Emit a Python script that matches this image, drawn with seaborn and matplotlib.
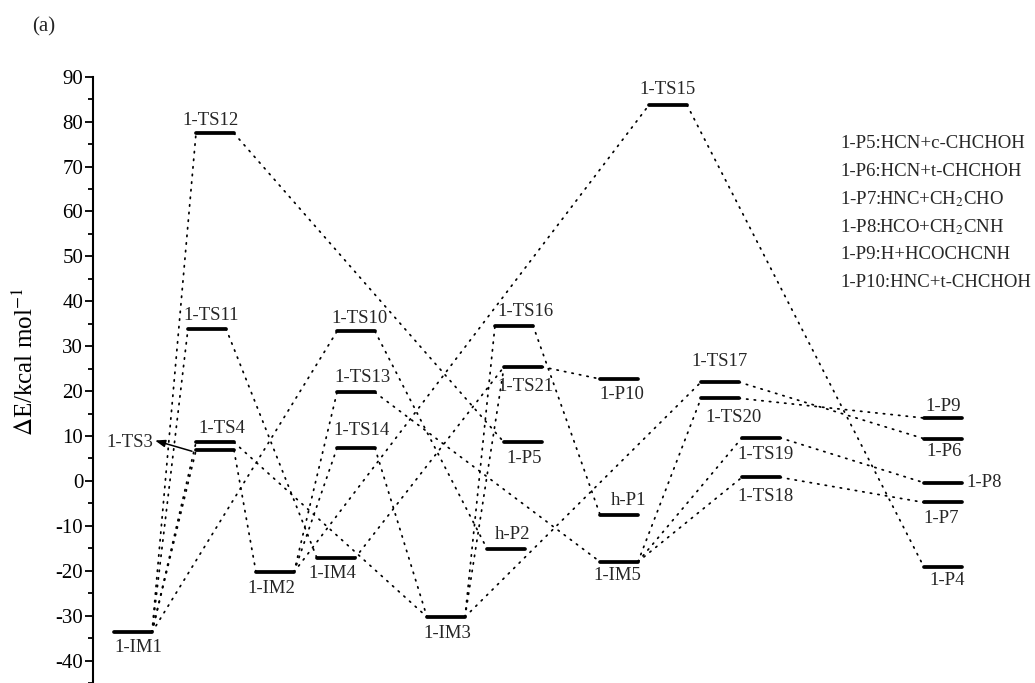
import matplotlib
matplotlib.use("Agg")
import matplotlib.pyplot as plt
from matplotlib.ticker import MultipleLocator
import pandas as pd
import seaborn as sns

# ---- potential energy surface data (kcal/mol) ----
species = ["1-IM1", "1-TS12", "1-TS11", "1-TS4", "1-TS3", "1-IM2", "1-IM4",
           "1-TS10", "1-TS13", "1-TS14", "1-IM3", "h-P2", "1-TS16", "1-TS21",
           "1-P5", "1-P10", "h-P1", "1-IM5", "1-TS15", "1-TS17", "1-TS20",
           "1-TS19", "1-TS18", "1-P9", "1-P6", "1-P8", "1-P7", "1-P4"]
energies = [-33.7, 77.4, 33.9, 8.6, 6.8, -20.3, -17.2,
            33.3, 19.7, 7.3, -30.3, -15.1, 34.6, 25.4,
            8.6, 22.7, -7.5, -18.0, 83.7, 22.0, 18.4,
            9.6, 0.8, 14.0, 9.4, -0.4, -4.8, -19.2]
# reaction-coordinate column of each level
columns = [4.0, 12.2, 11.4, 12.2, 12.2, 18.2, 24.3,
           26.3, 26.3, 26.3, 35.3, 41.3, 42.1, 43.0,
           43.0, 52.6, 52.6, 52.6, 57.5, 62.7, 62.7,
           66.8, 66.8, 85.0, 85.0, 85.0, 85.0, 85.0]

# elementary steps (left level -> right level)
steps = [
    ("1-IM1", "1-TS12"), ("1-IM1", "1-TS11"), ("1-IM1", "1-TS4"),
    ("1-IM1", "1-TS3"), ("1-IM1", "1-TS10"),
    ("1-TS12", "1-P5"), ("1-TS11", "1-IM4"), ("1-TS4", "1-IM3"),
    ("1-TS3", "1-IM2"), ("1-TS10", "h-P2"),
    ("1-IM2", "1-TS13"), ("1-IM2", "1-TS14"), ("1-IM2", "1-TS15"),
    ("1-IM4", "1-TS21"),
    ("1-TS13", "1-IM5"), ("1-TS14", "1-IM3"),
    ("1-IM3", "1-TS16"), ("1-IM3", "1-TS21"), ("1-IM3", "1-TS17"),
    ("1-TS16", "h-P1"), ("1-TS21", "1-P10"), ("1-TS15", "1-P4"),
    ("1-TS17", "1-P6"),
    ("1-IM5", "1-TS20"), ("1-IM5", "1-TS19"), ("1-IM5", "1-TS18"),
    ("1-TS20", "1-P9"), ("1-TS19", "1-P8"), ("1-TS18", "1-P7"),
]

product_notes = [
    "1-P5:HCN+c-CHCHOH",
    "1-P6:HCN+t-CHCHOH",
    r"1-P7:HNC+CH$_2$CHO",
    r"1-P8:HCO+CH$_2$CNH",
    "1-P9:H+HCOCHCNH",
    "1-P10:HNC+t-CHCHOH",
]

# label offsets in points relative to the level centre
label_offsets = {
    "1-IM1": (4, -11), "1-TS12": (-3, 9.5), "1-TS11": (3, 9.5),
    "1-TS4": (5, 10), "1-IM2": (-2.5, -12), "1-IM4": (-2.5, -11),
    "1-TS10": (2.5, 9.5), "1-TS13": (4.5, 11), "1-TS14": (4, 12.5),
    "1-IM3": (1, -12), "h-P2": (4.5, 10), "1-TS16": (8, 10),
    "1-TS21": (1.5, -14), "1-P5": (0.5, -12), "1-P10": (2, -11),
    "h-P1": (7, 10), "1-IM5": (-1, -10), "1-TS15": (0, 11),
    "1-TS17": (0, 14.5), "1-TS20": (10, -13.5), "1-TS19": (3, -12),
    "1-TS18": (3.5, -13.5), "1-P9": (0, 8.5), "1-P6": (0.5, -9.5),
    "1-P7": (-1, -11.5), "1-P4": (3, -9.5),
}

HALF = 1.9  # half length of a level bar (x units)

sns.set_theme(style="white")
plt.rcParams["font.family"] = ["Liberation Serif", "DejaVu Serif"]
plt.rcParams["mathtext.fontset"] = "stix"
plt.rcParams["axes.unicode_minus"] = False

levels = pd.DataFrame({"name": species, "E": energies, "x": columns})
lookup = levels.set_index("name")

fig = plt.figure(figsize=(10.35, 6.83), dpi=100, facecolor="white")
ax = fig.add_axes([93 / 1035, 0.0, 1 - 93 / 1035, 1 - 76.7 / 683])

# dotted connectors between levels
seg_rows = []
for k, (a, b) in enumerate(steps):
    seg_rows.append({"seg": k, "x": lookup.loc[a, "x"] + HALF, "E": lookup.loc[a, "E"]})
    seg_rows.append({"seg": k, "x": lookup.loc[b, "x"] - HALF, "E": lookup.loc[b, "E"]})
segs = pd.DataFrame(seg_rows)
sns.lineplot(data=segs, x="x", y="E", units="seg", estimator=None, sort=False,
             color="black", lw=1.25, linestyle=(0, (0.8, 3.6)),
             dash_capstyle="round", ax=ax, legend=False)

# the energy levels themselves
bar_rows = []
for _, r in levels.iterrows():
    bar_rows.append({"name": r["name"], "x": r["x"] - HALF, "E": r["E"]})
    bar_rows.append({"name": r["name"], "x": r["x"] + HALF, "E": r["E"]})
bars = pd.DataFrame(bar_rows)
sns.lineplot(data=bars, x="x", y="E", units="name", estimator=None, sort=False,
             color="black", lw=2.7, solid_capstyle="round", ax=ax, legend=False)

# level names
for name, (dx, dy) in label_offsets.items():
    ax.annotate(name, xy=(lookup.loc[name, "x"], lookup.loc[name, "E"]),
                xytext=(dx, dy), textcoords="offset points",
                ha="center", va="center", fontsize=13.5)
ax.annotate("1-P8", xy=(lookup.loc["1-P8", "x"] + HALF, lookup.loc["1-P8", "E"]),
            xytext=(3.5, 0), textcoords="offset points",
            ha="left", va="center", fontsize=13.5)

# 1-TS3 sits under 1-TS4, so it is named from the side with an arrow
ts3_x, ts3_e = lookup.loc["1-TS3", "x"], lookup.loc["1-TS3", "E"]
ax.text(ts3_x - 6.2, ts3_e + 1.8, "1-TS3", ha="right", va="center", fontsize=13.5)
ax.annotate("", xy=(ts3_x - 6.0, ts3_e + 2.2), xytext=(ts3_x - 2.3, ts3_e - 0.2),
            arrowprops=dict(arrowstyle="-|>,head_length=0.5,head_width=0.18",
                            color="black", lw=1.1, shrinkA=0, shrinkB=0))

# product key
for i, note in enumerate(product_notes):
    ax.text(74.7, 75.2 - i * 6.2, note, ha="left", va="center", fontsize=13.5)

ax.set_xlim(0, 94.2)
ax.set_ylim(-45, 90)
ax.set_xticks([])
ax.set_xlabel("")
ax.yaxis.set_major_locator(MultipleLocator(10))
ax.yaxis.set_minor_locator(MultipleLocator(5))
ax.set_yticks(range(-40, 91, 10))
ax.tick_params(axis="y", which="both", left=True, direction="out",
               color="black", labelcolor="black", width=1.3, pad=1.5)
ax.tick_params(axis="y", which="major", length=5.5, labelsize=15)
ax.tick_params(axis="y", which="minor", length=3.5)
for side in ("top", "right", "bottom"):
    ax.spines[side].set_visible(False)
ax.spines["left"].set_color("black")
ax.spines["left"].set_linewidth(1.5)
ax.set_ylabel(r"$\Delta$E/kcal mol$^{-1}$", fontsize=18, color="black")
ax.yaxis.set_label_coords(-0.058, 0.53)
ax.set_facecolor("white")

fig.text(32 / 1035, 1 - 27 / 683, "(a)", ha="left", va="center", fontsize=15)

fig.savefig("out.png", dpi=100, facecolor="white")
